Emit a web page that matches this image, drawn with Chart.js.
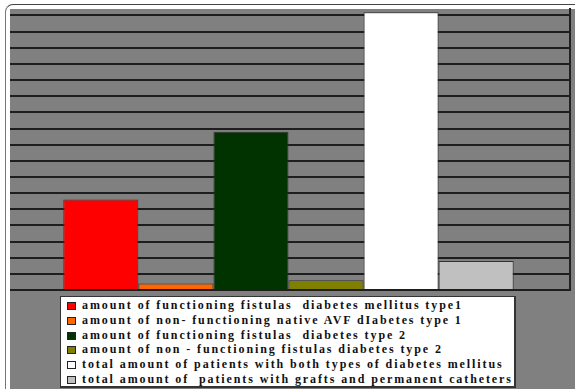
<!DOCTYPE html>
<html lang="en">
<head>
    <meta charset="UTF-8">
    <title>Fistulas chart</title>
    <script src="https://cdn.jsdelivr.net/npm/chart.js"></script>
    <style>
        body { margin: 0; background: #fff; width: 575px; height: 389px; overflow: hidden; position: relative; }
        .frame { position: absolute; left: 5px; top: 4px; width: 600px; height: 400px;
                  border-left: 1px solid #777; border-top: 1px solid #444; border-top-left-radius: 8px; }
        .plot { position: absolute; left: 10px; top: 9px; right: 0; bottom: 0; background: #808080; }
        .clip { position: absolute; left: 10px; top: 0; width: 565px; height: 389px; overflow: hidden; }
        #chart { position: absolute; left: -10px; top: 0; }
        #legend { position: absolute; left: 60px; top: 296px; width: 453px; height: 88px;
                  background: #fff; border: 1px solid #333; border-right-width: 2px; border-bottom-width: 2px;
                  padding-top: 1px; }
        #legend div { height: 14.8px; line-height: 14.8px; white-space: pre; position: relative; padding-left: 21px;
                  font-family: "Liberation Serif", serif; font-weight: bold; font-size: 12px; letter-spacing: 1.9px; color: #111; }
        #legend span { position: absolute; left: 6px; top: 4px; width: 7px; height: 6px; border: 1px solid #222; }
    </style>
</head>
<body>
    <div class="frame"></div>
    <div class="plot"></div>
    <div class="clip"><canvas id="chart" width="575" height="389"></canvas></div>
    <div id="legend"></div>

    <script>
        // series names and values (one gridline = 5)
        const seriesNames = [
            "amount of functioning fistulas  diabetes mellitus type1",
            "amount of non- functioning native AVF dIabetes type 1",
            "amount of functioning fistulas  diabetes type 2",
            "amount of non - functioning fistulas diabetes type 2",
            "total amount of patients with both types of diabetes mellitus",
            "total amount of  patients with grafts and permanent catheters"
        ];
        const seriesValues = [28, 2, 49, 3, 86, 9];
        const seriesColors = ["#ff0000", "#ff6600", "#003300", "#808000", "#ffffff", "#c0c0c0"];

        const datasets = seriesNames.map((name, i) => ({
            label: name,
            data: [seriesValues[i]],
            backgroundColor: seriesColors[i],
            borderColor: "#333",
            borderWidth: 1,
            categoryPercentage: 0.8,
            barPercentage: 1
        }));

        new Chart(document.getElementById("chart"), {
            type: "bar",
            data: { labels: [""], datasets: datasets },
            options: {
                responsive: false,
                animation: false,
                layout: { padding: { left: 7, top: 9, right: 5, bottom: 99 } },
                plugins: { legend: { display: false }, tooltip: { enabled: false } },
                scales: {
                    x: { display: false },
                    y: {
                        position: "right",
                        min: 0,
                        max: 87,
                        ticks: { display: false, stepSize: 5, includeBounds: false },
                        grid: { color: "#1e1e1e", lineWidth: 2, drawTicks: false },
                        border: { display: true, color: "#222", width: 2 }
                    }
                }
            }
        });

        // legend built from the same arrays
        const legend = document.getElementById("legend");
        seriesNames.forEach((name, i) => {
            const row = document.createElement("div");
            const box = document.createElement("span");
            box.style.background = seriesColors[i];
            row.appendChild(box);
            row.appendChild(document.createTextNode(name));
            legend.appendChild(row);
        });
    </script>
</body>
</html>
